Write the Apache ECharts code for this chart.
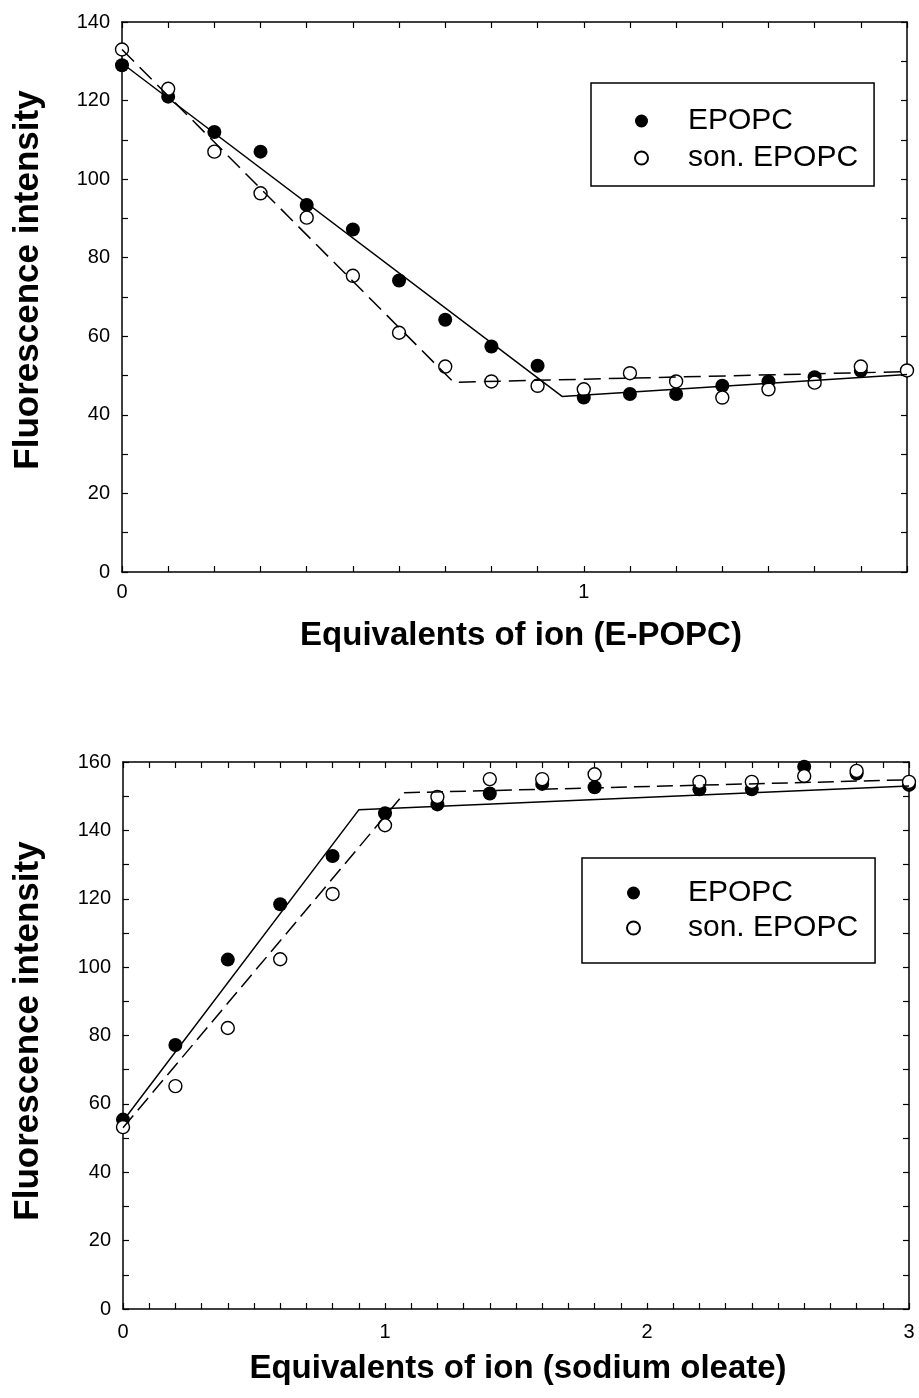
<!DOCTYPE html>
<html>
<head>
<meta charset="utf-8">
<script src="https://cdn.jsdelivr.net/npm/echarts@6/dist/echarts.min.js"></script>
<style>
  html, body { margin: 0; padding: 0; background: #fff; }
  #chart { width: 919px; height: 1398px; }
</style>
</head>
<body>
<div id="chart"></div>
<script>
// ---- Panel A: titration with E-POPC ----
const topX = [0, 0.1, 0.2, 0.3, 0.4, 0.5, 0.6, 0.7, 0.8, 0.9, 1.0, 1.1, 1.2, 1.3, 1.4, 1.5, 1.6, 1.7];
const topEpopc = [129, 121, 112, 107, 93.4, 87.2, 74.2, 64.2, 57.4, 52.5, 44.4, 45.3, 45.3, 47.4, 48.5, 49.6, 51.2];
const topSonEpopc = [133, 123, 107, 96.4, 90.2, 75.4, 60.9, 52.3, 48.5, 47.4, 46.5, 50.6, 48.5, 44.4, 46.5, 48.2, 52.3, 51.3];
// fitted two-segment lines (x, y of the vertices)
const topFitEpopcX = [0, 0.953, 1.7];
const topFitEpopcY = [129.5, 44.7, 50.3];
const topFitSonX = [0, 0.718, 1.7];
const topFitSonY = [133, 48.3, 51];

// ---- Panel B: titration with sodium oleate ----
const botX = [0, 0.2, 0.4, 0.6, 0.8, 1.0, 1.2, 1.4, 1.6, 1.8, 2.2, 2.4, 2.6, 2.8, 3.0];
const botEpopc = [55.4, 77.2, 102.2, 118.4, 132.5, 145, 147.6, 150.8, 153.6, 152.6, 152, 152, 158.6, 156.6, 153.3];
const botSonEpopc = [53.2, 65.2, 82.2, 102.3, 121.4, 141.5, 149.8, 155, 155, 156.4, 154.2, 154.2, 155.9, 157.4, 154.2];
const botFitEpopcX = [0, 0.9, 3.0];
const botFitEpopcY = [55, 146, 153];
const botFitSonX = [0, 1.075, 3.0];
const botFitSonY = [53, 151, 154.8];

// axis ranges and tick steps
const topXRange = [0, 1.7];
const botXRange = [0, 3];
const topYRange = [0, 140];
const botYRange = [0, 160];
const xTickStep = 0.1;
const yTickStep = 10;
const yLabelStep = 20;

const seriesNames = ['EPOPC', 'son. EPOPC'];
const xTitles = ['Equivalents of ion (E-POPC)', 'Equivalents of ion (sodium oleate)'];
const yTitle = 'Fluorescence intensity';

const FONT = '"Liberation Sans", Arial, Helvetica, sans-serif';

function zip(xs, ys) { return ys.map((y, i) => [xs[i], y]); }

const intLabel = v => (Math.abs(v - Math.round(v)) < 1e-6 ? String(Math.round(v)) : '');
const yLabel = v => (Math.round(v) % yLabelStep === 0 ? String(Math.round(v)) : '');

function xAxisPair(gridIndex, range, labelMargin) {
  const common = {
    type: 'value', gridIndex, min: range[0], max: range[1], interval: xTickStep,
    splitLine: { show: false },
    axisLine: { onZero: false, lineStyle: { color: '#000', width: 1.5 } },
    axisTick: { inside: true, length: 6, lineStyle: { color: '#000', width: 1.2 } }
  };
  return [
    Object.assign({}, common, {
      position: 'bottom',
      axisLabel: { formatter: intLabel, color: '#000', fontSize: 20, fontFamily: FONT, margin: labelMargin, showMinLabel: true, showMaxLabel: true, hideOverlap: false }
    }),
    Object.assign({}, common, { position: 'top', axisLabel: { show: false } })
  ];
}

function yAxisPair(gridIndex, range) {
  const common = {
    type: 'value', gridIndex, min: range[0], max: range[1], interval: yTickStep,
    splitLine: { show: false },
    axisLine: { onZero: false, lineStyle: { color: '#000', width: 1.5 } },
    axisTick: { inside: true, length: 6, lineStyle: { color: '#000', width: 1.2 } }
  };
  return [
    Object.assign({}, common, {
      position: 'left',
      axisLabel: { formatter: yLabel, color: '#000', fontSize: 20, fontFamily: FONT, margin: 12 }
    }),
    Object.assign({}, common, { position: 'right', axisLabel: { show: false } })
  ];
}

const filledStyle = { color: '#000', borderWidth: 0, opacity: 1 };
const openStyle = { color: '#fff', borderColor: '#000', borderWidth: 1.4, opacity: 1 };

function panelSeries(axisIdx, epopc, son, xs, fitE, fitS, dash) {
  return [
    {
      name: seriesNames[0], type: 'scatter', xAxisIndex: axisIdx, yAxisIndex: axisIdx,
      symbol: 'circle', symbolSize: 14, itemStyle: filledStyle, z: 2,
      data: zip(xs, epopc)
    },
    {
      name: seriesNames[1], type: 'scatter', xAxisIndex: axisIdx, yAxisIndex: axisIdx,
      symbol: 'circle', symbolSize: 13, itemStyle: openStyle, z: 3,
      data: zip(xs, son)
    },
    {
      type: 'line', xAxisIndex: axisIdx, yAxisIndex: axisIdx, showSymbol: false, symbol: 'none',
      lineStyle: { color: '#000', width: 1.5, type: 'solid' }, z: 4, silent: true,
      data: zip(fitE[0], fitE[1])
    },
    {
      type: 'line', xAxisIndex: axisIdx, yAxisIndex: axisIdx, showSymbol: false, symbol: 'none',
      lineStyle: { color: '#000', width: 1.5, type: dash }, z: 4, silent: true,
      data: zip(fitS[0], fitS[1])
    }
  ];
}

// boxed legend: the circle sits in a 13px slot, text pushed right with padding
function legendAt(left, top, padding, gap, textShift) {
  return {
    orient: 'vertical', left, top, padding, itemGap: gap,
    itemWidth: 13, itemHeight: 13,
    borderColor: '#000', borderWidth: 1.5, backgroundColor: '#fff',
    selectedMode: false,
    textStyle: { fontSize: 30, fontFamily: FONT, color: '#000', padding: [0, 0, 0, textShift] },
    data: [{ name: seriesNames[0], icon: 'circle' }, { name: seriesNames[1], icon: 'circle' }]
  };
}

function titleText(text, x, y, size, rotate) {
  return {
    type: 'text', x, y, rotation: rotate ? Math.PI / 2 : 0,
    style: {
      text, fill: '#000', fontSize: size, fontWeight: 'bold', fontFamily: FONT,
      align: 'center', verticalAlign: 'middle', textAlign: 'center', textVerticalAlign: 'middle'
    }
  };
}

const [tx0, tx1] = xAxisPair(0, topXRange, 10);
const [bx0, bx1] = xAxisPair(1, botXRange, 13);
const [ty0, ty1] = yAxisPair(0, topYRange);
const [by0, by1] = yAxisPair(1, botYRange);

const option = {
  backgroundColor: '#fff',
  animation: false,
  grid: [
    { left: 122, top: 22, width: 785, height: 550 },
    { left: 123, top: 762, width: 786, height: 547 }
  ],
  xAxis: [tx0, tx1, bx0, bx1],
  yAxis: [ty0, ty1, by0, by1],
  legend: [
    legendAt(591, 83, [23, 16, 13, 43], 7, 35),
    legendAt(582, 858, [20, 17, 20, 44], 5, 43)
  ],
  series: [
    ...panelSeries(0, topEpopc, topSonEpopc, topX, [topFitEpopcX, topFitEpopcY], [topFitSonX, topFitSonY], [17, 8]),
    ...panelSeries(2, botEpopc, botSonEpopc, botX, [botFitEpopcX, botFitEpopcY], [botFitSonX, botFitSonY], [16, 7])
  ],
  graphic: [
    titleText(yTitle, 28, 280, 35, true),
    titleText(xTitles[0], 521, 636, 33, false),
    titleText(yTitle, 28, 1031, 35, true),
    titleText(xTitles[1], 518, 1369, 33, false)
  ]
};

const chart = echarts.init(document.getElementById('chart'), null, { renderer: 'canvas' });
chart.setOption(option);
</script>
</body>
</html>
